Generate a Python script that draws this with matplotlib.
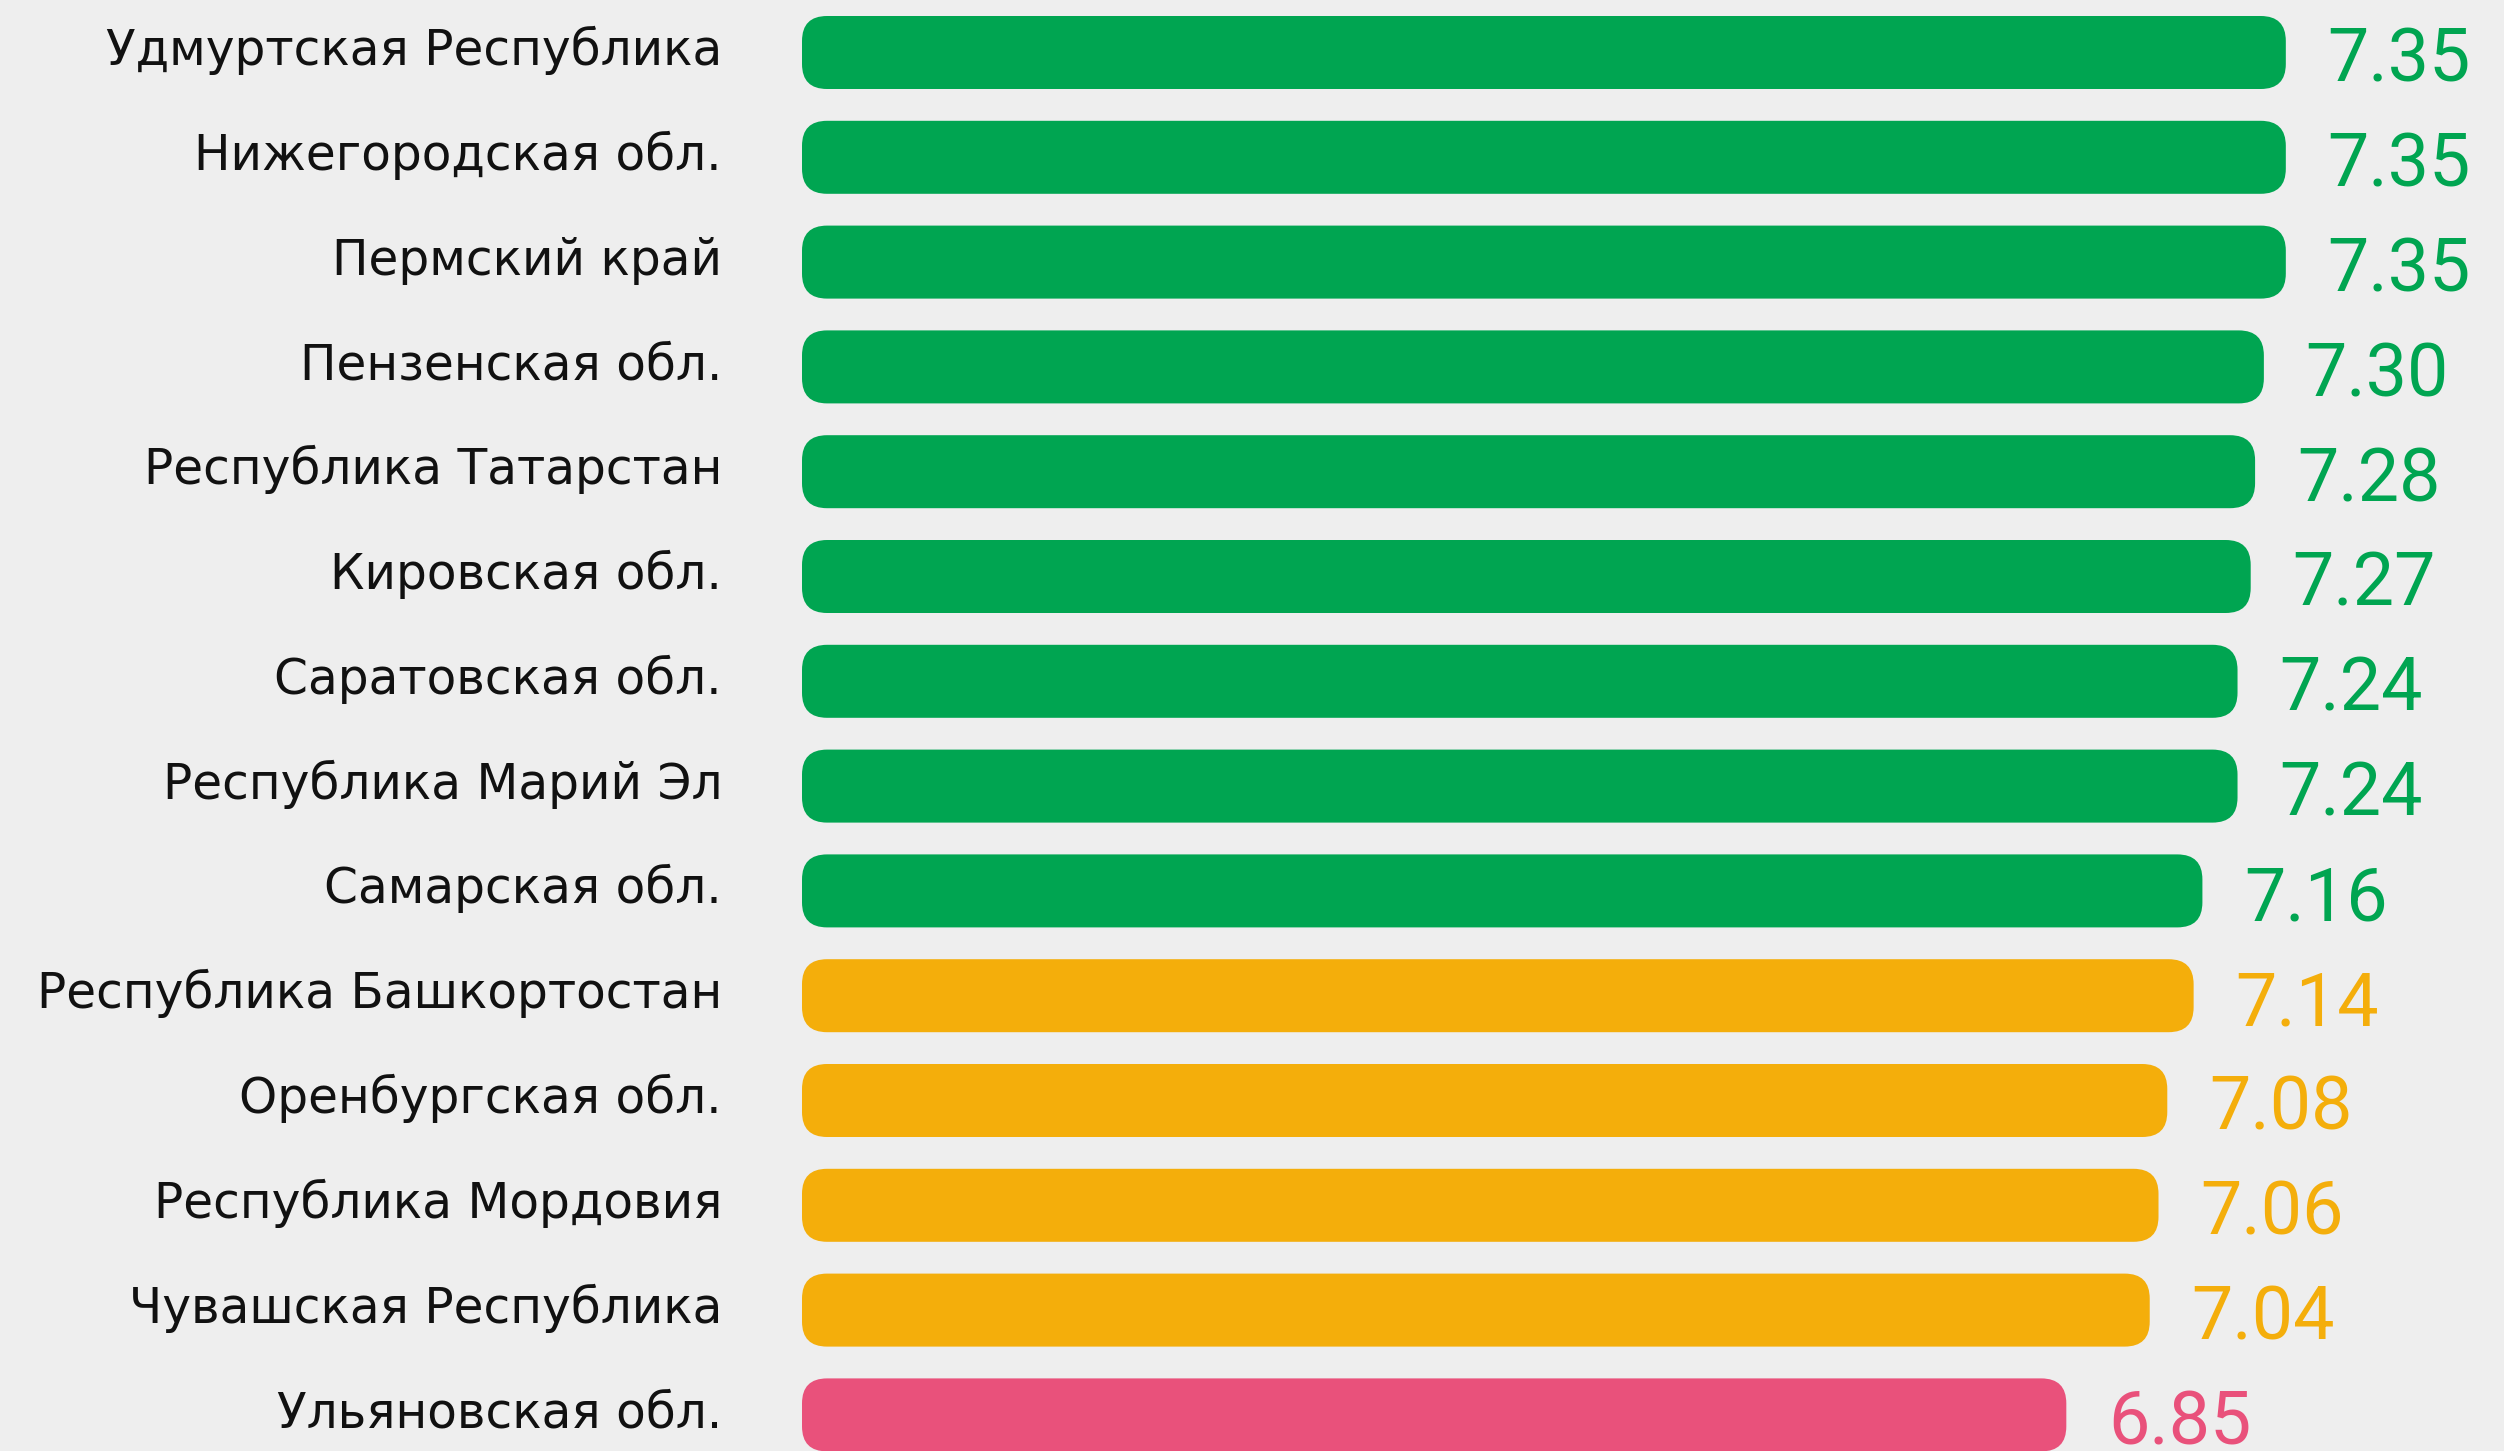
import matplotlib

matplotlib.use("Agg")
import matplotlib.pyplot as plt
from matplotlib.patches import FancyBboxPatch

regions = [
    "Удмуртская Республика",
    "Нижегородская обл.",
    "Пермский край",
    "Пензенская обл.",
    "Республика Татарстан",
    "Кировская обл.",
    "Саратовская обл.",
    "Республика Марий Эл",
    "Самарская обл.",
    "Республика Башкортостан",
    "Оренбургская обл.",
    "Республика Мордовия",
    "Чувашская Республика",
    "Ульяновская обл.",
]
scores = [7.35, 7.35, 7.35, 7.30, 7.28, 7.27, 7.24, 7.24, 7.16, 7.14, 7.08, 7.06, 7.04, 6.85]
levels = ["high"] * 9 + ["mid"] * 4 + ["low"]

palette = {"high": "#00A551", "mid": "#F4AE0B", "low": "#E9517B"}
bg = "#EEEEEE"

W, H, DPI = 2504, 1451, 100
left_px = 802
label_right_px = 722
px_per_unit = 439.0
row_px = 104.8
x_min = 3.97
x_max = x_min + (W - left_px) / px_per_unit

fig = plt.figure(figsize=(W / DPI, H / DPI), dpi=DPI, facecolor=bg)

ax = fig.add_axes([left_px / W, 0, 1 - left_px / W, 1])
ax.set_facecolor("none")
ax.set_xlim(x_min, x_max)
top = -52.5 / row_px
ax.set_ylim(top + H / row_px, top)
ax.axis("off")

bar_h = 73 / row_px
radius = 25 / px_per_unit
aspect = px_per_unit / row_px
label_x = -(left_px - label_right_px) / (W - left_px)

for i, (name, val, lvl) in enumerate(zip(regions, scores, levels)):
    color = palette[lvl]
    bar = FancyBboxPatch(
        (x_min, i - bar_h / 2), val - x_min, bar_h,
        boxstyle=f"round,pad=0,rounding_size={radius}",
        mutation_aspect=aspect, facecolor=color, edgecolor="none", zorder=2,
    )
    ax.add_patch(bar)
    ax.text(val + 0.095, i + 0.28, f"{val:.2f}", color=color, fontsize=53,
            family="Roboto", va="baseline", ha="left", zorder=3)
    ax.text(label_x, i + 0.12, name, transform=ax.get_yaxis_transform(),
            fontsize=35, family="DejaVu Sans", color="#111111", ha="right", va="baseline")

fig.savefig("out.png", dpi=DPI, facecolor=bg)
